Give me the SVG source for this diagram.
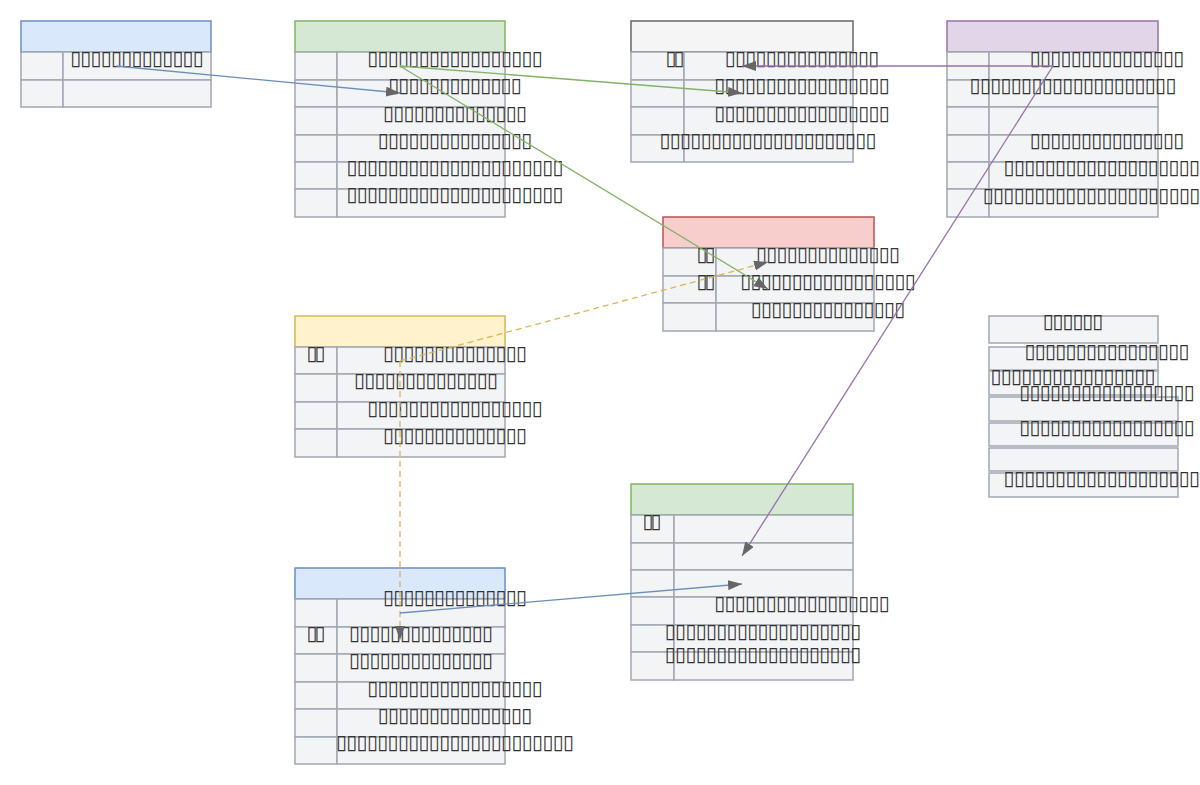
<svg xmlns="http://www.w3.org/2000/svg" width="1200" height="785" viewBox="0 0 1200 785">
<style>
.c{fill:#f3f4f6;stroke:#a2a7b1;stroke-width:1.5}
.t{font-family:"DejaVu Sans",sans-serif;font-size:20px;fill:#333;text-anchor:middle;dominant-baseline:central}
.e{fill:none;stroke-width:1.3}
</style>
<defs>
<marker id="ar" viewBox="0 0 14 10" refX="14" refY="5" markerWidth="14" markerHeight="10" markerUnits="userSpaceOnUse" orient="auto"><path d="M0,0 L14,5 L0,10 Z" fill="#666"/></marker>
</defs>
<rect width="1200" height="785" fill="#fff"/>
<g id="tableA">
<rect x="21" y="21" width="190" height="31" fill="#dae8fc" stroke="#6c8ebf" stroke-width="1.5"/>
<rect class="c" x="21" y="52" width="42" height="28"/><rect class="c" x="63" y="52" width="148" height="28"/>
<rect class="c" x="21" y="80" width="42" height="27"/><rect class="c" x="63" y="80" width="148" height="27"/>
<text class="t" x="137" y="58" textLength="133.7" lengthAdjust="spacing">▯▯▯▯▯▯▯▯▯▯▯▯▯</text>
</g>
<g id="tableB">
<rect x="295" y="21" width="210" height="31" fill="#d5e8d4" stroke="#82b366" stroke-width="1.5"/>
<rect class="c" x="295" y="52" width="42" height="28"/><rect class="c" x="337" y="52" width="168" height="28"/>
<rect class="c" x="295" y="80" width="42" height="27"/><rect class="c" x="337" y="80" width="168" height="27"/>
<rect class="c" x="295" y="107" width="42" height="28"/><rect class="c" x="337" y="107" width="168" height="28"/>
<rect class="c" x="295" y="135" width="42" height="27"/><rect class="c" x="337" y="135" width="168" height="27"/>
<rect class="c" x="295" y="162" width="42" height="27"/><rect class="c" x="337" y="162" width="168" height="27"/>
<rect class="c" x="295" y="189" width="42" height="28"/><rect class="c" x="337" y="189" width="168" height="28"/>
<text class="t" x="455" y="58" textLength="175.5" lengthAdjust="spacing">▯▯▯▯▯▯▯▯▯▯▯▯▯▯▯▯▯</text>
<text class="t" x="455" y="85" textLength="133.7" lengthAdjust="spacing">▯▯▯▯▯▯▯▯▯▯▯▯▯</text>
<text class="t" x="455" y="113" textLength="144.2" lengthAdjust="spacing">▯▯▯▯▯▯▯▯▯▯▯▯▯▯</text>
<text class="t" x="455" y="140" textLength="154.6" lengthAdjust="spacing">▯▯▯▯▯▯▯▯▯▯▯▯▯▯▯</text>
<text class="t" x="455" y="167" textLength="217.2" lengthAdjust="spacing">▯▯▯▯▯▯▯▯▯▯▯▯▯▯▯▯▯▯▯▯▯</text>
<text class="t" x="455" y="194" textLength="217.2" lengthAdjust="spacing">▯▯▯▯▯▯▯▯▯▯▯▯▯▯▯▯▯▯▯▯▯</text>
</g>
<g id="tableC">
<rect x="631" y="21" width="222" height="31" fill="#f5f5f5" stroke="#666" stroke-width="1.5"/>
<rect class="c" x="631" y="52" width="53" height="28"/><rect class="c" x="684" y="52" width="169" height="28"/>
<rect class="c" x="631" y="80" width="53" height="27"/><rect class="c" x="684" y="80" width="169" height="27"/>
<rect class="c" x="631" y="107" width="53" height="28"/><rect class="c" x="684" y="107" width="169" height="28"/>
<rect class="c" x="631" y="135" width="53" height="27"/><rect class="c" x="684" y="135" width="169" height="27"/>
<text class="t" x="675" y="58" textLength="18.9" lengthAdjust="spacing">▯▯</text>
<text class="t" x="802" y="58" textLength="154.6" lengthAdjust="spacing">▯▯▯▯▯▯▯▯▯▯▯▯▯▯▯</text>
<text class="t" x="802" y="85" textLength="175.5" lengthAdjust="spacing">▯▯▯▯▯▯▯▯▯▯▯▯▯▯▯▯▯</text>
<text class="t" x="802" y="113" textLength="175.5" lengthAdjust="spacing">▯▯▯▯▯▯▯▯▯▯▯▯▯▯▯▯▯</text>
<text class="t" x="768" y="140" textLength="217.2" lengthAdjust="spacing">▯▯▯▯▯▯▯▯▯▯▯▯▯▯▯▯▯▯▯▯▯</text>
</g>
<g id="tableD">
<rect x="947" y="21" width="211" height="31" fill="#e1d5e7" stroke="#9673a6" stroke-width="1.5"/>
<rect class="c" x="947" y="52" width="42" height="28"/><rect class="c" x="989" y="52" width="169" height="28"/>
<rect class="c" x="947" y="80" width="42" height="27"/><rect class="c" x="989" y="80" width="169" height="27"/>
<rect class="c" x="947" y="107" width="42" height="28"/><rect class="c" x="989" y="107" width="169" height="28"/>
<rect class="c" x="947" y="135" width="42" height="27"/><rect class="c" x="989" y="135" width="169" height="27"/>
<rect class="c" x="947" y="162" width="42" height="27"/><rect class="c" x="989" y="162" width="169" height="27"/>
<rect class="c" x="947" y="189" width="42" height="28"/><rect class="c" x="989" y="189" width="169" height="28"/>
<text class="t" x="1107" y="58" textLength="154.6" lengthAdjust="spacing">▯▯▯▯▯▯▯▯▯▯▯▯▯▯▯</text>
<text class="t" x="1073" y="85" textLength="206.8" lengthAdjust="spacing">▯▯▯▯▯▯▯▯▯▯▯▯▯▯▯▯▯▯▯▯</text>
<text class="t" x="1107" y="140" textLength="154.6" lengthAdjust="spacing">▯▯▯▯▯▯▯▯▯▯▯▯▯▯▯</text>
<text class="t" x="1107" y="167" textLength="206.8" lengthAdjust="spacing">▯▯▯▯▯▯▯▯▯▯▯▯▯▯▯▯▯▯▯▯</text>
<text class="t" x="1107" y="195" textLength="248.6" lengthAdjust="spacing">▯▯▯▯▯▯▯▯▯▯▯▯▯▯▯▯▯▯▯▯▯▯▯▯</text>
</g>
<g id="tableE">
<rect x="663" y="217" width="211" height="31" fill="#f8cecc" stroke="#b85450" stroke-width="1.5"/>
<rect class="c" x="663" y="248" width="53" height="28"/><rect class="c" x="716" y="248" width="158" height="28"/>
<rect class="c" x="663" y="276" width="53" height="27"/><rect class="c" x="716" y="276" width="158" height="27"/>
<rect class="c" x="663" y="303" width="53" height="28"/><rect class="c" x="716" y="303" width="158" height="28"/>
<text class="t" x="706" y="254" textLength="18.9" lengthAdjust="spacing">▯▯</text>
<text class="t" x="828" y="254" textLength="144.2" lengthAdjust="spacing">▯▯▯▯▯▯▯▯▯▯▯▯▯▯</text>
<text class="t" x="706" y="281" textLength="18.9" lengthAdjust="spacing">▯▯</text>
<text class="t" x="828" y="281" textLength="175.5" lengthAdjust="spacing">▯▯▯▯▯▯▯▯▯▯▯▯▯▯▯▯▯</text>
<text class="t" x="828" y="309" textLength="154.6" lengthAdjust="spacing">▯▯▯▯▯▯▯▯▯▯▯▯▯▯▯</text>
</g>
<g id="tableF">
<rect x="295" y="316" width="210" height="31" fill="#fff2cc" stroke="#d6b656" stroke-width="1.5"/>
<rect class="c" x="295" y="347" width="42" height="27"/><rect class="c" x="337" y="347" width="168" height="27"/>
<rect class="c" x="295" y="374" width="42" height="28"/><rect class="c" x="337" y="374" width="168" height="28"/>
<rect class="c" x="295" y="402" width="42" height="27"/><rect class="c" x="337" y="402" width="168" height="27"/>
<rect class="c" x="295" y="429" width="42" height="28"/><rect class="c" x="337" y="429" width="168" height="28"/>
<text class="t" x="316" y="353" textLength="18.9" lengthAdjust="spacing">▯▯</text>
<text class="t" x="455" y="353" textLength="144.2" lengthAdjust="spacing">▯▯▯▯▯▯▯▯▯▯▯▯▯▯</text>
<text class="t" x="426" y="380" textLength="144.2" lengthAdjust="spacing">▯▯▯▯▯▯▯▯▯▯▯▯▯▯</text>
<text class="t" x="455" y="408" textLength="175.5" lengthAdjust="spacing">▯▯▯▯▯▯▯▯▯▯▯▯▯▯▯▯▯</text>
<text class="t" x="455" y="435" textLength="144.2" lengthAdjust="spacing">▯▯▯▯▯▯▯▯▯▯▯▯▯▯</text>
</g>
<g id="tableG">
<rect x="295" y="568" width="210" height="31" fill="#dae8fc" stroke="#6c8ebf" stroke-width="1.5"/>
<rect class="c" x="295" y="599" width="42" height="28"/><rect class="c" x="337" y="599" width="168" height="28"/>
<rect class="c" x="295" y="627" width="42" height="27"/><rect class="c" x="337" y="627" width="168" height="27"/>
<rect class="c" x="295" y="654" width="42" height="28"/><rect class="c" x="337" y="654" width="168" height="28"/>
<rect class="c" x="295" y="682" width="42" height="27"/><rect class="c" x="337" y="682" width="168" height="27"/>
<rect class="c" x="295" y="709" width="42" height="28"/><rect class="c" x="337" y="709" width="168" height="28"/>
<rect class="c" x="295" y="737" width="42" height="27"/><rect class="c" x="337" y="737" width="168" height="27"/>
<text class="t" x="455" y="597" textLength="144.2" lengthAdjust="spacing">▯▯▯▯▯▯▯▯▯▯▯▯▯▯</text>
<text class="t" x="316" y="633" textLength="18.9" lengthAdjust="spacing">▯▯</text>
<text class="t" x="421" y="633" textLength="144.2" lengthAdjust="spacing">▯▯▯▯▯▯▯▯▯▯▯▯▯▯</text>
<text class="t" x="421" y="660" textLength="144.2" lengthAdjust="spacing">▯▯▯▯▯▯▯▯▯▯▯▯▯▯</text>
<text class="t" x="455" y="688" textLength="175.5" lengthAdjust="spacing">▯▯▯▯▯▯▯▯▯▯▯▯▯▯▯▯▯</text>
<text class="t" x="455" y="715" textLength="154.6" lengthAdjust="spacing">▯▯▯▯▯▯▯▯▯▯▯▯▯▯▯</text>
<text class="t" x="455" y="742" textLength="238.1" lengthAdjust="spacing">▯▯▯▯▯▯▯▯▯▯▯▯▯▯▯▯▯▯▯▯▯▯▯</text>
</g>
<g id="tableH">
<rect x="631" y="484" width="222" height="31" fill="#d5e8d4" stroke="#82b366" stroke-width="1.5"/>
<rect class="c" x="631" y="515" width="43" height="28"/><rect class="c" x="674" y="515" width="179" height="28"/>
<rect class="c" x="631" y="543" width="43" height="27"/><rect class="c" x="674" y="543" width="179" height="27"/>
<rect class="c" x="631" y="570" width="43" height="27"/><rect class="c" x="674" y="570" width="179" height="27"/>
<rect class="c" x="631" y="597" width="43" height="28"/><rect class="c" x="674" y="597" width="179" height="28"/>
<rect class="c" x="631" y="625" width="43" height="27"/><rect class="c" x="674" y="625" width="179" height="27"/>
<rect class="c" x="631" y="652" width="43" height="28"/><rect class="c" x="674" y="652" width="179" height="28"/>
<text class="t" x="652" y="521" textLength="18.9" lengthAdjust="spacing">▯▯</text>
<text class="t" x="802" y="603" textLength="175.5" lengthAdjust="spacing">▯▯▯▯▯▯▯▯▯▯▯▯▯▯▯▯▯</text>
<text class="t" x="763" y="631" textLength="196.4" lengthAdjust="spacing">▯▯▯▯▯▯▯▯▯▯▯▯▯▯▯▯▯▯▯</text>
<text class="t" x="763" y="654" textLength="196.4" lengthAdjust="spacing">▯▯▯▯▯▯▯▯▯▯▯▯▯▯▯▯▯▯▯</text>
</g>
<g id="listI">
<rect class="c" x="989" y="316" width="169" height="27"/>
<rect class="c" x="989" y="347" width="169" height="23"/>
<rect class="c" x="989" y="371" width="169" height="24"/>
<rect class="c" x="989" y="397" width="189" height="24"/>
<rect class="c" x="989" y="423" width="189" height="23"/>
<rect class="c" x="989" y="448" width="189" height="23"/>
<rect class="c" x="989" y="473" width="189" height="24"/>
<text class="t" x="1073" y="321" textLength="60.6" lengthAdjust="spacing">▯▯▯▯▯▯</text>
<text class="t" x="1107" y="351" textLength="165" lengthAdjust="spacing">▯▯▯▯▯▯▯▯▯▯▯▯▯▯▯▯</text>
<text class="t" x="1073" y="376" textLength="165" lengthAdjust="spacing">▯▯▯▯▯▯▯▯▯▯▯▯▯▯▯▯</text>
<text class="t" x="1107" y="392" textLength="175.5" lengthAdjust="spacing">▯▯▯▯▯▯▯▯▯▯▯▯▯▯▯▯▯</text>
<text class="t" x="1107" y="427" textLength="175.5" lengthAdjust="spacing">▯▯▯▯▯▯▯▯▯▯▯▯▯▯▯▯▯</text>
<text class="t" x="1107" y="478" textLength="206.8" lengthAdjust="spacing">▯▯▯▯▯▯▯▯▯▯▯▯▯▯▯▯▯▯▯▯</text>
</g>
<g id="connectors">
<line class="e" x1="116" y1="66" x2="400" y2="93" stroke="#6c8ebf" marker-end="url(#ar)"/>
<line class="e" x1="400" y1="66" x2="742" y2="93" stroke="#82b366" marker-end="url(#ar)"/>
<line class="e" x1="400" y1="66" x2="768" y2="289" stroke="#82b366" marker-end="url(#ar)"/>
<line class="e" x1="1053" y1="66" x2="742" y2="66" stroke="#9673a6" marker-end="url(#ar)"/>
<line class="e" x1="1053" y1="66" x2="742" y2="556" stroke="#9673a6" marker-end="url(#ar)"/>
<line class="e" x1="400" y1="361" x2="768" y2="262" stroke="#d6b656" stroke-dasharray="6,4" marker-end="url(#ar)"/>
<line class="e" x1="400" y1="361" x2="400" y2="640" stroke="#d6b656" stroke-dasharray="6,4" marker-end="url(#ar)"/>
<line class="e" x1="400" y1="613" x2="742" y2="584" stroke="#6c8ebf" marker-end="url(#ar)"/>
</g>
</svg>
